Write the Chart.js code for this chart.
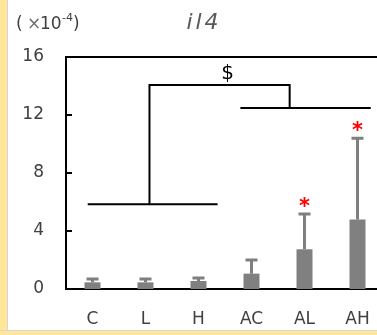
<!DOCTYPE html>
<html>
<head>
<meta charset="utf-8">
<script src="https://cdn.jsdelivr.net/npm/chart.js@4.4.1/dist/chart.umd.min.js"></script>
<style>
	html, body { margin: 0; padding: 0; overflow: hidden; background: #fff; }
	#frame { position: relative; width: 377px; height: 335px; overflow: hidden; }
	#wrap { position: absolute; left: 0; top: 0; width: 406px; height: 335px; }
	#edgeLeft { position: absolute; left: 0; top: 0; width: 7px; height: 335px; background: #FFE699; border-right: 1px solid #D6D6D6; }
	#edgeBottom { position: absolute; left: 0; top: 330px; width: 377px; height: 5px; background: #FFE699; border-top: 1px solid #D6D6D6; box-sizing: border-box; }
</style>
</head>
<body>
<div id="frame">
<div id="wrap"><canvas id="il4-chart" width="406" height="335"></canvas></div>
<div id="edgeLeft"></div>
<div id="edgeBottom"></div>
</div>
<script>
// groups and il4 expression (x 10^-4), mean and upper SD
const groups = ["C", "L", "H", "AC", "AL", "AH"];
const means = [0.46, 0.46, 0.55, 1.06, 2.74, 4.8];
const sds = [0.23, 0.23, 0.21, 0.94, 2.43, 5.6];
const stars = ["", "", "", "", "*", "*"];
const yTicks = [0, 4, 8, 12, 16];

// comparison brackets, x in group index units
const bracketLow = [[-0.09, 5.84], [2.36, 5.84]];
const bracketMain = [[1.075, 5.84], [1.075, 14.07], [3.72, 14.07], [3.72, 12.48]];
const bracketHigh = [[2.79, 12.48], [5.25, 12.48]];
const dollarMark = [2.55, 14.9];

const FONT = "'DejaVu Sans'";

function toPoints(arr) {
	return arr.map(function(p) { return {x: p[0], y: p[1]}; });
}

function bracketDataset(arr) {
	return {
		type: 'line',
		data: toPoints(arr),
		xAxisID: 'xb',
		yAxisID: 'y',
		borderColor: "#000000",
		borderWidth: 2,
		pointRadius: 0,
		tension: 0,
		fill: false,
	};
}

// keep the bracket axis aligned with the category slots
function pinBracketAxis(axis) {
	axis.min = -0.5;
	axis.max = groups.length - 0.5;
}

const extras = {
	id: 'extras',
	afterDatasetsDraw(chart) {
		const ctx = chart.ctx;
		const x = chart.scales.x;
		const y = chart.scales.y;
		const area = chart.chartArea;
		ctx.save();

		// error bars (upper only) and stars
		for (let i = 0; i < groups.length; i++) {
			const px = x.getPixelForValue(i);
			const yb = y.getPixelForValue(means[i]);
			const yt = y.getPixelForValue(means[i] + sds[i]);
			ctx.strokeStyle = "#7F7F7F";
			ctx.lineWidth = 3;
			ctx.beginPath();
			ctx.moveTo(px, yb);
			ctx.lineTo(px, yt);
			ctx.moveTo(px - 6, yt);
			ctx.lineTo(px + 6, yt);
			ctx.stroke();
			if (stars[i]) {
				ctx.fillStyle = "#FF0000";
				ctx.font = "bold 21px " + FONT;
				ctx.textAlign = "center";
				ctx.textBaseline = "alphabetic";
				ctx.fillText(stars[i], px, yt - 1);
			}
		}

		// frame top line and inward y ticks
		ctx.strokeStyle = "#000000";
		ctx.lineWidth = 2;
		ctx.beginPath();
		ctx.moveTo(area.left - 1, area.top);
		ctx.lineTo(chart.width, area.top);
		yTicks.forEach(function(v) {
			const py = y.getPixelForValue(v);
			ctx.moveTo(area.left, py);
			ctx.lineTo(area.left + 6, py);
		});
		ctx.stroke();

		// significance mark over the bracket
		const xb = chart.scales.xb;
		ctx.fillStyle = "#000000";
		ctx.font = "20px " + FONT;
		ctx.textAlign = "center";
		ctx.textBaseline = "alphabetic";
		ctx.fillText("$", xb.getPixelForValue(dollarMark[0]), y.getPixelForValue(dollarMark[1]) + 6);

		// title
		ctx.fillStyle = "#595959";
		ctx.font = "oblique 22px " + FONT;
		ctx.letterSpacing = "3px";
		ctx.fillText("il4", 204, 29);
		ctx.letterSpacing = "0px";

		// unit label
		ctx.textAlign = "left";
		ctx.fillStyle = "#404040";
		ctx.font = "17px " + FONT;
		ctx.fillText("(", 16, 29);
		ctx.fillStyle = "#707070";
		ctx.fillText("\u00d7", 27, 29);
		ctx.fillStyle = "#404040";
		ctx.fillText("10", 40, 29);
		ctx.font = "11px " + FONT;
		ctx.fillText("-4", 62, 21);
		ctx.font = "17px " + FONT;
		ctx.fillText(")", 73, 29);
		ctx.restore();
	}
};

const canvas = document.querySelector("#il4-chart");
const chart = new Chart(canvas.getContext("2d"), {
	type: 'bar',
	data: {
		labels: groups,
		datasets: [{
			data: means,
			backgroundColor: "#808080",
			grouped: false,
			maxBarThickness: 16,
		},
		bracketDataset(bracketLow),
		bracketDataset(bracketMain),
		bracketDataset(bracketHigh)]
	},
	plugins: [extras],
	options: {
		responsive: false,
		animation: false,
		layout: {
			padding: {left: 0, right: 22, top: 57, bottom: 5}
		},
		scales: {
			x: {
				afterFit(axis) { axis.height = 41; },
				grid: { display: false, drawTicks: false },
				border: { display: true, color: "#000000", width: 2 },
				ticks: {
					color: "#404040",
					font: { family: FONT, size: 17 },
					padding: 20,
				},
			},
			xb: {
				type: 'linear',
				display: false,
				offset: false,
				bounds: 'data',
				min: -0.5,
				max: 5.5,
				afterDataLimits: pinBracketAxis,
				afterBuildTicks: pinBracketAxis,
			},
			y: {
				min: 0,
				max: 16,
				afterFit(axis) { axis.width = 66; },
				afterBuildTicks(axis) { axis.ticks = yTicks.map(function(v) { return {value: v}; }); },
				grid: { display: false, drawTicks: false },
				border: { display: true, color: "#000000", width: 2 },
				ticks: {
					color: "#404040",
					font: { family: FONT, size: 17 },
					padding: 22,
				},
			},
		},
		plugins: {
			legend: { display: false },
			tooltip: { enabled: false },
		},
	},
});
</script>
</body>
</html>
